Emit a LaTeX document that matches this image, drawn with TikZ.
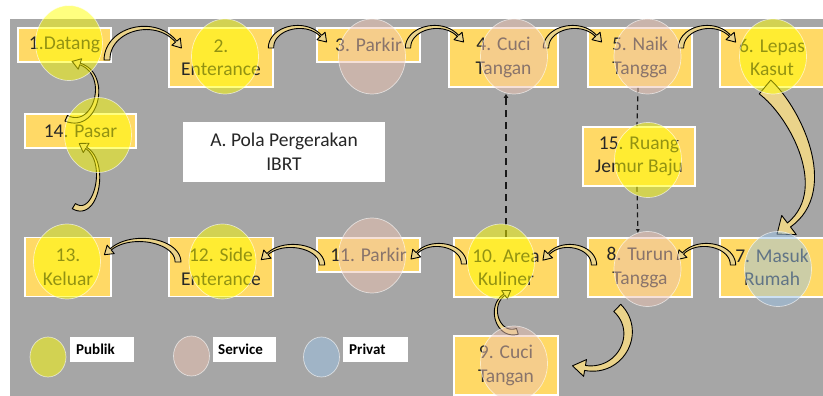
\documentclass[tikz,border=0pt]{standalone}
\usepackage{fontspec}
\setmainfont{Carlito}
\usetikzlibrary{shapes.geometric,arrows.meta,calc}

\definecolor{bggray}{HTML}{A6A6A6}
\definecolor{boxgold}{HTML}{FFD966}
\definecolor{txt}{HTML}{262626}
\definecolor{pubc}{HTML}{FFFF00}
\definecolor{servc}{RGB}{236,194,176}
\definecolor{privc}{RGB}{155,194,230}
\definecolor{arrowfill}{RGB}{234,211,138}

\tikzset{
  stage/.style={draw=white, line width=1.6pt, fill=boxgold, text=txt, align=center,
    inner sep=0pt, font=\fontsize{19.5}{23.5}\selectfont},
  onerow/.style={stage, minimum height=34pt},
  tworow/.style={stage, minimum height=59pt},
  zone/.style={ellipse, inner sep=0pt, minimum width=67pt, minimum height=75pt,
    draw=white, draw opacity=0.6, line width=0.7pt, fill opacity=0.5},
  publik/.style={zone, fill=pubc},
  service/.style={zone, fill=servc},
  privat/.style={zone, fill=privc},
  keydot/.style={minimum width=36pt, minimum height=40pt},
  legendtag/.style={fill=white, text=black, minimum height=25pt, inner ysep=0pt,
    text width=#1, align=left, anchor=west, font=\bfseries\fontsize{15}{18}\selectfont},
  flowarrow/.style={draw=black, line width=0.9pt, fill=arrowfill, line join=round},
  link/.style={draw=black!90, dashed, line width=#1},
}

% Curved block arrow along the cubic Bezier (\BAxa,\BAya)..(\BAxd,\BAyd):
% #1 width at the tail, #2 width where the head starts, #3 head width, #4 head length.
\newcommand\drawblockarrow[4]{%
  \pgfmathsetmacro\BAwa{#1}%
  \pgfmathsetmacro\BAwb{#2}%
  \pgfmathsetmacro\BAtx{(\BAxd)-(\BAxc)}%
  \pgfmathsetmacro\BAty{(\BAyd)-(\BAyc)}%
  \pgfmathsetmacro\BAtl{veclen(\BAtx,\BAty)}%
  \pgfmathsetmacro\BAux{(\BAtx)/(\BAtl)}%
  \pgfmathsetmacro\BAuy{(\BAty)/(\BAtl)}%
  \pgfmathsetmacro\BAhax{(\BAxd)-(\BAuy)*(#3)/2}%
  \pgfmathsetmacro\BAhay{(\BAyd)+(\BAux)*(#3)/2}%
  \pgfmathsetmacro\BAhbx{(\BAxd)+(\BAuy)*(#3)/2}%
  \pgfmathsetmacro\BAhby{(\BAyd)-(\BAux)*(#3)/2}%
  \pgfmathsetmacro\BAtipx{(\BAxd)+(\BAux)*(#4)}%
  \pgfmathsetmacro\BAtipy{(\BAyd)+(\BAuy)*(#4)}%
  \filldraw[flowarrow]
    plot[domain=0:1,samples=32,variable=\t]
      ({bzx(\t)-bzw(\t)/2*bzdy(\t)/bzd(\t)},{bzy(\t)+bzw(\t)/2*bzdx(\t)/bzd(\t)})
    -- (\BAhax,\BAhay) -- (\BAtipx,\BAtipy) -- (\BAhbx,\BAhby)
    -- plot[domain=1:0,samples=32,variable=\t]
      ({bzx(\t)+bzw(\t)/2*bzdy(\t)/bzd(\t)},{bzy(\t)-bzw(\t)/2*bzdx(\t)/bzd(\t)})
    -- cycle;
}

% Block arrow following an elliptic arc: centre #1,#2; radii #3,#4;
% angles #5 -> #6; widths #7 -> #8; head width #9.
\newcommand\ellarrow[9]{%
  \pgfmathsetmacro\BAk{4/3*tan(((#6)-(#5))/4)}%
  \pgfmathsetmacro\BAxa{#1+(#3)*cos(#5)}%
  \pgfmathsetmacro\BAya{#2+(#4)*sin(#5)}%
  \pgfmathsetmacro\BAxd{#1+(#3)*cos(#6)}%
  \pgfmathsetmacro\BAyd{#2+(#4)*sin(#6)}%
  \pgfmathsetmacro\BAxb{(\BAxa)-(\BAk)*(#3)*sin(#5)}%
  \pgfmathsetmacro\BAyb{(\BAya)+(\BAk)*(#4)*cos(#5)}%
  \pgfmathsetmacro\BAxc{(\BAxd)+(\BAk)*(#3)*sin(#6)}%
  \pgfmathsetmacro\BAyc{(\BAyd)-(\BAk)*(#4)*cos(#6)}%
  \drawblockarrow{#7}{#8}{#9}{0.75*(#9)}%
}

\newcommand\setbezier[8]{%
  \def\BAxa{#1}\def\BAya{#2}\def\BAxb{#3}\def\BAyb{#4}%
  \def\BAxc{#5}\def\BAyc{#6}\def\BAxd{#7}\def\BAyd{#8}}

\begin{document}
\begin{tikzpicture}[x=1pt, y=-1pt,
  declare function={
    bzx(\t)=(1-\t)*(1-\t)*(1-\t)*(\BAxa)+3*(1-\t)*(1-\t)*\t*(\BAxb)+3*(1-\t)*\t*\t*(\BAxc)+\t*\t*\t*(\BAxd);
    bzy(\t)=(1-\t)*(1-\t)*(1-\t)*(\BAya)+3*(1-\t)*(1-\t)*\t*(\BAyb)+3*(1-\t)*\t*\t*(\BAyc)+\t*\t*\t*(\BAyd);
    bzdx(\t)=3*(1-\t)*(1-\t)*((\BAxb)-(\BAxa))+6*(1-\t)*\t*((\BAxc)-(\BAxb))+3*\t*\t*((\BAxd)-(\BAxc));
    bzdy(\t)=3*(1-\t)*(1-\t)*((\BAyb)-(\BAya))+6*(1-\t)*\t*((\BAyc)-(\BAyb))+3*\t*\t*((\BAyd)-(\BAyc));
    bzd(\t)=veclen(bzdx(\t),bzdy(\t));
    bzw(\t)=(\BAwa)+((\BAwb)-(\BAwa))*\t;
  }]
\useasboundingbox (0,0) rectangle (823,396);
\clip (0,0) rectangle (823,396);

% backdrop
\fill[white] (0,0) rectangle (823,396);
\fill[bggray] (10,19) rectangle (823,396);

% stages
\node[onerow, minimum width=93pt]  (b1)  at (64.5,45)   {1.Datang};
\node[tworow, minimum width=104pt] (b2)  at (221,57.5)  {2.\\Enterance};
\node[onerow, minimum width=103pt] (b3)  at (368.5,45)  {3. Parkir};
\node[tworow, minimum width=109pt] (b4)  at (503.5,57.5){4. Cuci\\Tangan};
\node[tworow, minimum width=104pt] (b5)  at (640,57.5)  {5. Naik\\Tangga};
\node[tworow, minimum width=104pt] (b6)  at (772,57.5)  {6. Lepas\\Kasut};
\node[onerow, minimum width=111pt] (b14) at (80.5,131)  {14. Pasar};
\node[tworow, minimum width=112pt] (b15) at (639,156.5) {15. Ruang\\Jemur Baju};
\node[tworow, minimum width=86pt]  (b13) at (68,267)    {13.\\Keluar};
\node[tworow, minimum width=104pt] (b12) at (221,267)   {12. Side\\Enterance};
\node[onerow, minimum width=103pt] (b11) at (368.5,255) {11. Parkir};
\node[tworow, minimum width=104pt] (b10) at (506,267.5) {10. Area\\Kuliner};
\node[tworow, minimum width=104pt] (b8)  at (640,267.5) {8. Turun\\Tangga};
\node[tworow, minimum width=104pt] (b7)  at (772,267.5) {7. Masuk\\Rumah};
\node[tworow, minimum width=104pt] (b9)  at (506,365.5) {9. Cuci\\Tangan};

% title
\node[fill=white, minimum width=202pt, minimum height=60pt, inner sep=0pt, align=center,
  text=txt, font=\fontsize{19.5}{24}\selectfont] (title) at (284,152)
  {A. Pola Pergerakan\\IBRT};

% legend labels
\node[legendtag=52pt, inner xsep=6pt] (tpub)  at (70,349.5)  {Publik};
\node[legendtag=53pt, inner xsep=5pt] (tserv) at (213,349.5) {Service};
\node[legendtag=53pt, inner xsep=6pt] (tpriv) at (343,349.5) {Privat};

% movement arrows
\ellarrow{145}{60}{38}{32}{180}{325}{6}{1.6}{11}       % 1 -> 2
\ellarrow{298.5}{48}{27.5}{21}{180}{325}{5.5}{1.6}{11} % 2 -> 3
\ellarrow{435.5}{48}{27.5}{21}{180}{325}{5.5}{1.6}{11} % 3 -> 4
\ellarrow{573.5}{48}{27.5}{21}{180}{325}{5.5}{1.6}{11} % 4 -> 5
\ellarrow{708}{48}{27}{21}{180}{325}{5.5}{1.6}{11}     % 5 -> 6
\setbezier{765}{87}{795}{112}{835}{190}{789}{225}
\drawblockarrow{18}{5}{24}{15}                          % 6 -> 7
\ellarrow{705.5}{265}{27.5}{20}{360}{215}{5.5}{1.6}{11}  % 7 -> 8
\ellarrow{591.4}{333}{36.6}{35.5}{-45}{100}{10}{5}{17}   % 8 -> 9
\ellarrow{513}{312}{17}{20}{75}{240}{6}{1.6}{10}         % 9 -> 10
\ellarrow{569}{265}{25}{19}{360}{215}{5.5}{1.6}{11}      % 8 -> 10
\ellarrow{438}{264}{26}{19}{360}{215}{5.5}{1.6}{11}      % 10 -> 11
\ellarrow{292}{265}{30}{19}{360}{215}{5.5}{1.6}{11}      % 11 -> 12
\ellarrow{141}{262}{37}{22}{360}{215}{6}{1.6}{11}        % 12 -> 13
\ellarrow{80}{177}{18}{31}{110}{-70}{6}{1.6}{11}         % 13 -> 14
\ellarrow{74}{91.5}{23}{28.5}{110}{-75}{6}{1.6}{11}      % 14 -> 1

% service links
\draw[link=1.8pt, dash pattern=on 7pt off 5pt, -{Latex[length=4pt,width=5pt]}, shorten >=6pt]
  (b10.north) -- (b10.north |- b4.south);
\draw[link=1.2pt, dash pattern=on 5pt off 3.5pt]
  ([xshift=-2pt]b5.south) -- ([xshift=-2pt]b15.north);
\draw[link=1.2pt, dash pattern=on 5pt off 3.5pt, -{Latex[length=4pt,width=4pt]}, shorten >=4pt]
  ([xshift=-2pt]b15.south) -- ([xshift=-2pt]b8.north);

% zoning overlays
\node[publik]  (z1)  at (69,43)      {};
\node[publik]  (z2)  at (225,56.5)   {};
\node[service] (z3)  at (372,56.5)   {};
\node[service] (z4)  at (514,56.5)   {};
\node[service] (z5)  at (647.5,56.5) {};
\node[publik]  (z6)  at (773,56.5)   {};
\node[publik]  (z14) at (98,135)     {};
\node[publik]  (z15) at (648,160)    {};
\node[publik]  (z13) at (67,261.5)   {};
\node[publik]  (z12) at (222.5,261.5){};
\node[service] (z11) at (372,255.5)  {};
\node[publik]  (z10) at (501,261.5)  {};
\node[service] (z8)  at (647.5,269)  {};
\node[privat]  (z7)  at (778,269)    {};
\node[service] (z9)  at (514,363.5)  {};

% legend dots
\node[publik, keydot]  (kpub)  at (48,357)    {};
\node[service, keydot] (kserv) at (191.5,356) {};
\node[privat, keydot]  (kpriv) at (321.5,357) {};
\end{tikzpicture}
\end{document}
